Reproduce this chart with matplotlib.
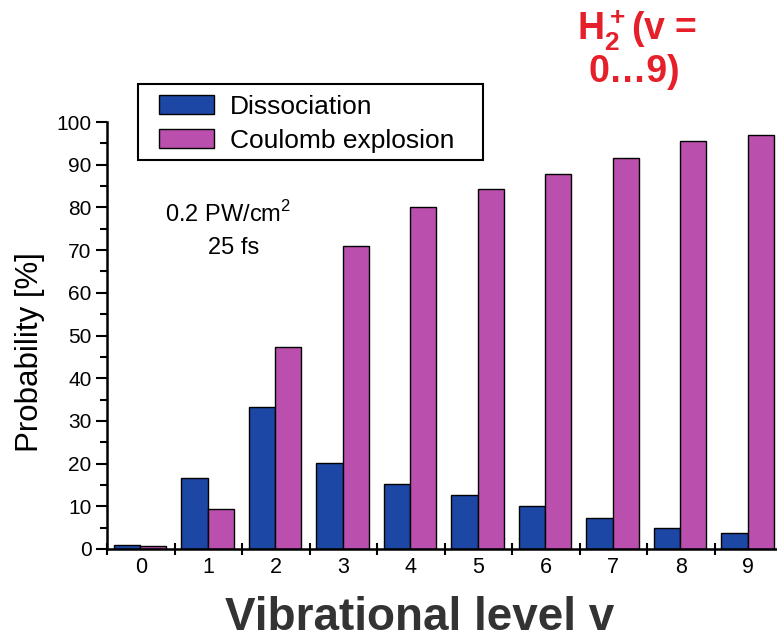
import numpy as np
import matplotlib
matplotlib.use("Agg")
import matplotlib.pyplot as plt
from matplotlib.patches import Rectangle
from matplotlib.ticker import MultipleLocator

plt.rcParams["font.family"] = ["Liberation Sans", "DejaVu Sans"]
plt.rcParams["mathtext.fontset"] = "custom"
plt.rcParams["mathtext.rm"] = "Liberation Sans"
plt.rcParams["mathtext.bf"] = "Liberation Sans:bold"

# data
levels = [0, 1, 2, 3, 4, 5, 6, 7, 8, 9]
dissociation = [1.0, 16.7, 33.2, 20.1, 15.2, 12.6, 10.1, 7.3, 4.9, 3.8]
coulomb = [0.6, 9.4, 47.4, 71.0, 80.2, 84.3, 87.8, 91.6, 95.5, 97.0]
tick_labels = [str(v) for v in levels]

blue = "#1d47a5"
pink = "#bb4fae"

fig = plt.figure(figsize=(7.77, 6.41), dpi=100)
ax = fig.add_axes([107/777, 92/641, 675/777, 427/641])

x = np.array(levels)
w = 0.39
ax.bar(x - 0.205, dissociation, w, color=blue, edgecolor="black", linewidth=1.0, label="Dissociation")
ax.bar(x + 0.185, coulomb, w, color=pink, edgecolor="black", linewidth=1.0, label="Coulomb explosion")

ax.set_xlim(-0.5, 9.5)
ax.set_ylim(0, 100)
for s in ["top", "right"]:
    ax.spines[s].set_visible(False)
ax.spines["left"].set_linewidth(1.8)
ax.spines["bottom"].set_linewidth(1.8)

ax.set_xticks(x)
ax.set_xticklabels(tick_labels, fontsize=15.5)
ax.xaxis.set_minor_locator(MultipleLocator(1, offset=0.5))
ax.tick_params(axis="x", which="major", length=0, pad=6)
ax.tick_params(axis="x", which="minor", direction="inout", length=9, width=1.5)
ax.yaxis.set_major_locator(MultipleLocator(10))
ax.yaxis.set_minor_locator(MultipleLocator(5))
ax.tick_params(axis="y", which="major", length=8, width=1.5, labelsize=15, pad=3)
ax.tick_params(axis="y", which="minor", length=5, width=1.5)

# legend without its own frame, box drawn separately (wider side padding)
leg = fig.legend(*ax.get_legend_handles_labels(), loc="upper left",
                 bbox_to_anchor=(159/777, 1 - 95/641), fontsize=19,
                 frameon=False, handlelength=2.1, handleheight=0.75,
                 borderpad=0, labelspacing=0.38, handletextpad=0.6,
                 borderaxespad=0)
fig.patches.append(Rectangle((138/777, 1 - 160/641), 345/777, 76/641,
                             transform=fig.transFigure, fill=False,
                             edgecolor="black", linewidth=1.5))

ax.text(0.18, 0.767, "0.2 PW/cm$^2$", transform=ax.transAxes, fontsize=17, ha="center")
ax.text(0.187, 0.69, "25 fs", transform=ax.transAxes, fontsize=17, ha="center")

fig.text(30/777, 1 - 352/641, "Probability [%]", rotation=90, fontsize=22.5,
         ha="center", va="center")
fig.text(420/777, 1 - 618/641, "Vibrational level v", fontsize=33,
         fontweight="bold", ha="center", va="center", color="#333333")
fig.text(637/777, 1 - 30/641, r"$\mathbf{H_2^+}$(v =", fontsize=27,
         fontweight="bold", ha="center", va="center", color="#e5202a")
fig.text(634/777, 1 - 72/641, "0\u20269)", fontsize=27,
         fontweight="bold", ha="center", va="center", color="#e5202a")

fig.savefig("out.png", dpi=100)
